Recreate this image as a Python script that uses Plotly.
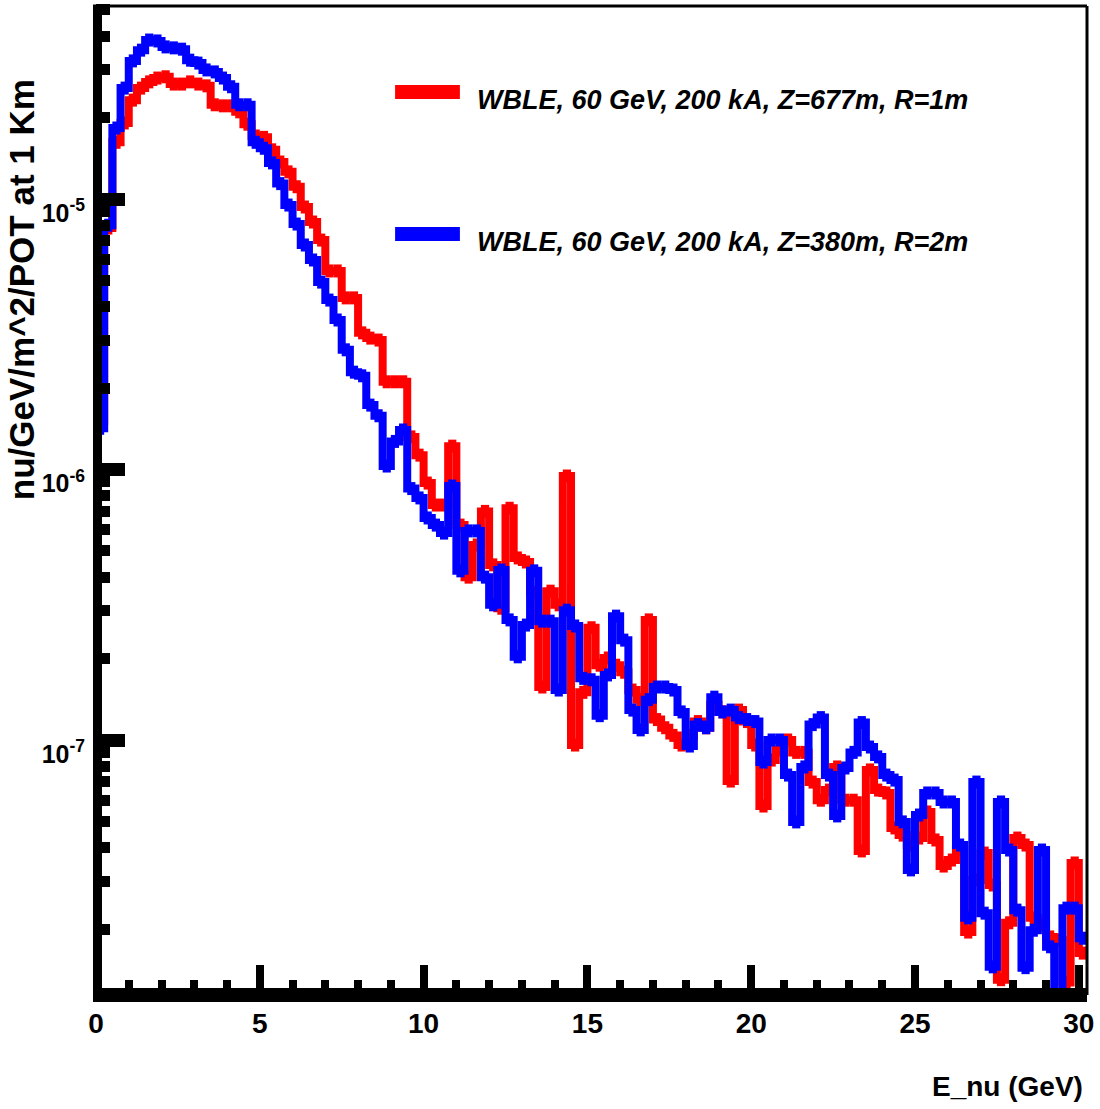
import plotly.graph_objects as go

# ---------------- data ----------------
bin_width = 0.25          # GeV
n_bins = 121              # 0 .. 30.25 GeV
energy_edges = [round(i * bin_width, 4) for i in range(n_bins + 1)]

series_names = [
    "WBLE, 60 GeV, 200 kA, Z=677m, R=1m",
    "WBLE, 60 GeV, 200 kA, Z=380m, R=2m",
]

red_flux = [
    1.51e-6, 7.81e-6, 1.62e-5, 1.91e-5, 2.32e-5, 2.57e-5, 2.71e-5, 2.80e-5, 2.83e-5, 2.66e-5,
    2.66e-5, 2.71e-5, 2.66e-5, 2.62e-5, 2.23e-5, 2.21e-5, 2.21e-5, 2.10e-5, 1.89e-5, 1.71e-5,
    1.69e-5, 1.52e-5, 1.37e-5, 1.26e-5, 1.11e-5, 9.34e-6, 8.22e-6, 7.05e-6, 5.42e-6, 5.42e-6,
    4.31e-6, 4.31e-6, 3.20e-6, 3.06e-6, 3.01e-6, 2.11e-6, 2.11e-6, 2.11e-6, 1.32e-6, 1.13e-6,
    8.91e-7, 7.39e-7, 7.39e-7, 1.22e-6, 6.23e-7, 4.00e-7, 5.26e-7, 7.00e-7, 4.44e-7, 3.07e-7,
    7.19e-7, 4.71e-7, 4.55e-7, 3.52e-7, 1.57e-7, 3.55e-7, 3.16e-7, 9.46e-7, 9.58e-8, 1.50e-7,
    2.60e-7, 1.89e-7, 2.01e-7, 1.89e-7, 1.78e-7, 1.53e-7, 1.41e-7, 2.78e-7, 1.19e-7, 1.11e-7,
    1.04e-7, 9.58e-8, 1.04e-7, 1.17e-7, 1.11e-7, 1.35e-7, 1.27e-7, 7.05e-8, 1.29e-7, 1.17e-7,
    9.58e-8, 5.70e-8, 8.43e-8, 9.18e-8, 1.00e-7, 9.00e-8, 9.00e-8, 6.99e-8, 5.99e-8, 6.53e-8,
    7.95e-8, 5.99e-8, 5.99e-8, 3.89e-8, 7.75e-8, 6.53e-8, 6.37e-8, 4.73e-8, 4.45e-8, 4.09e-8,
    4.34e-8, 5.42e-8, 4.27e-8, 3.42e-8, 3.60e-8, 3.92e-8, 1.95e-8, 3.04e-8, 3.82e-8, 2.91e-8,
    1.30e-8, 2.11e-8, 4.34e-8, 4.09e-8, 2.20e-8, 2.07e-8, 1.87e-8, 1.82e-8, 1.27e-8, 3.51e-8,
    1.63e-8,
]

blue_flux = [
    1.42e-6, 8.00e-6, 1.83e-5, 2.57e-5, 3.24e-5, 3.55e-5, 3.87e-5, 3.84e-5, 3.65e-5, 3.62e-5,
    3.58e-5, 3.26e-5, 3.18e-5, 3.00e-5, 2.95e-5, 2.80e-5, 2.60e-5, 2.23e-5, 2.23e-5, 1.62e-5,
    1.54e-5, 1.36e-5, 1.14e-5, 9.50e-6, 8.08e-6, 6.76e-6, 5.95e-6, 4.93e-6, 4.23e-6, 3.57e-6,
    2.77e-6, 2.29e-6, 2.22e-6, 1.73e-6, 1.58e-6, 1.03e-6, 1.27e-6, 1.40e-6, 8.50e-7, 7.85e-7,
    6.62e-7, 6.23e-7, 5.82e-7, 8.69e-7, 4.22e-7, 5.93e-7, 5.93e-7, 4.00e-7, 3.16e-7, 4.25e-7,
    2.78e-7, 2.03e-7, 2.66e-7, 4.22e-7, 2.75e-7, 2.75e-7, 1.53e-7, 3.02e-7, 2.64e-7, 1.69e-7,
    1.67e-7, 1.23e-7, 1.74e-7, 2.87e-7, 2.34e-7, 1.29e-7, 1.09e-7, 1.41e-7, 1.57e-7, 1.57e-7,
    1.53e-7, 1.27e-7, 9.50e-8, 1.14e-7, 1.11e-7, 1.44e-7, 1.27e-7, 1.29e-7, 1.21e-7, 1.19e-7,
    1.17e-7, 8.29e-8, 1.00e-7, 1.00e-7, 7.42e-8, 4.98e-8, 7.95e-8, 1.14e-7, 1.21e-7, 7.42e-8,
    5.24e-8, 7.88e-8, 9.00e-8, 1.16e-7, 9.42e-8, 8.66e-8, 7.42e-8, 7.11e-8, 4.98e-8, 3.31e-8,
    5.28e-8, 6.37e-8, 6.37e-8, 5.90e-8, 5.90e-8, 4.09e-8, 2.20e-8, 6.99e-8, 2.29e-8, 1.45e-8,
    5.90e-8, 3.92e-8, 2.35e-8, 1.44e-8, 1.98e-8, 3.92e-8, 1.72e-8, 8.00e-9, 2.39e-8, 2.39e-8,
    1.85e-8,
]

x_tick_values = [0, 5, 10, 15, 20, 25, 30]
x_tick_labels = ["0", "5", "10", "15", "20", "25", "30"]
x_minor_values = [v for v in range(1, 30) if v % 5 != 0]
y_tick_values = [1e-7, 1e-6, 1e-5]
y_tick_labels = ["10<sup>-7</sup>", "10<sup>-6</sup>", "10<sup>-5</sup>"]
y_minor_values = [m * 10.0 ** e for e in (-8, -7, -6, -5) for m in range(2, 10)]

# ---------------- styling ----------------
FONT = "Liberation Sans, Arial, Helvetica, sans-serif"
colors = ["#ff0000", "#0000ff"]


def step_outline(vals):
    return energy_edges, list(vals) + [vals[-1]]


def flat_tops(vals):
    xs, ys = [], []
    for i, v in enumerate(vals):
        xs += [energy_edges[i], energy_edges[i + 1], None]
        ys += [v, v, None]
    return xs, ys


fig = go.Figure()
for name, vals, col in zip(series_names, [red_flux, blue_flux], colors):
    sx, sy = step_outline(vals)
    fig.add_trace(go.Scatter(x=sx, y=sy, mode="lines", name=name,
                             line=dict(color=col, width=8, shape="hv"),
                             showlegend=False, hoverinfo="skip"))
    hx, hy = flat_tops(vals)
    fig.add_trace(go.Scatter(x=hx, y=hy, mode="lines", name=name,
                             line=dict(color=col, width=13),
                             showlegend=False, hoverinfo="skip",
                             connectgaps=False))

# plot-area geometry (pixels)
L, R, T, B = 96, 1090, 6, 995
W, H = 1100, 1109


def px(xp):
    return (xp - L) / (R - L)


def py(yp):
    return (B - yp) / (B - T)


fig.update_layout(
    width=W, height=H,
    margin=dict(l=L, r=W - R, t=T, b=H - B),
    paper_bgcolor="white", plot_bgcolor="white",
    showlegend=False,
    xaxis=dict(
        range=[0, 30.25], showgrid=False, zeroline=False, showline=False,
        tickmode="array", tickvals=x_tick_values, ticktext=x_tick_labels,
        ticks="inside", ticklen=30, tickwidth=8, tickcolor="black",
        tickfont=dict(family=FONT, size=28, color="black", weight="bold"),
        ticklabelstandoff=9, ticklabeloverflow="allow",
        minor=dict(tickmode="array", tickvals=x_minor_values, ticks="inside",
                   ticklen=15, tickwidth=8, tickcolor="black", showgrid=False),
    ),
    yaxis=dict(
        type="log", range=[-7.9427, -4.2865], showgrid=False, zeroline=False,
        showline=False,
        tickmode="array", tickvals=y_tick_values, ticktext=y_tick_labels,
        ticks="inside", ticklen=29, tickwidth=13, tickcolor="black",
        tickfont=dict(family=FONT, size=25, color="black", weight="bold"),
        ticklabelstandoff=10, ticklabelshift=14, ticklabeloverflow="allow",
        minor=dict(tickmode="array", tickvals=y_minor_values, ticks="inside",
                   ticklen=14, tickwidth=11, tickcolor="black", showgrid=False),
    ),
)

shapes = [
    # thick left and bottom axes, thin top/right frame
    dict(type="line", xref="paper", yref="paper", x0=px(97.5), x1=px(97.5),
         y0=py(1002), y1=1, line=dict(color="black", width=9), layer="above"),
    dict(type="line", xref="paper", yref="paper", x0=px(93), x1=1,
         y0=0, y1=0, line=dict(color="black", width=14), layer="above"),
    dict(type="line", xref="paper", yref="paper", x0=px(93), x1=1,
         y0=1, y1=1, line=dict(color="black", width=3), layer="above"),
    dict(type="line", xref="paper", yref="paper", x0=1, x1=1,
         y0=0, y1=1, line=dict(color="black", width=3), layer="above"),
]
legend_rows = [92, 234]
for row, col in zip(legend_rows, colors):
    shapes.append(dict(type="line", xref="paper", yref="paper",
                       x0=px(396), x1=px(461), y0=py(row), y1=py(row),
                       line=dict(color=col, width=14)))
fig.update_layout(shapes=shapes)

annotations = []
for row, name in zip(legend_rows, series_names):
    annotations.append(dict(
        text="<b><i>%s</i></b>" % name, xref="paper", yref="paper",
        x=px(476), y=py(row + 8), xanchor="left", yanchor="middle",
        showarrow=False, font=dict(family=FONT, size=27, color="black")))
annotations.append(dict(
    text="<b>nu/GeV/m^2/POT at 1 Km</b>", xref="paper", yref="paper",
    x=px(21), y=py(290), xanchor="center", yanchor="middle", textangle=-90,
    showarrow=False, font=dict(family=FONT, size=35, color="black")))
annotations.append(dict(
    text="<b>E_nu (GeV)</b>", xref="paper", yref="paper",
    x=px(1088), y=py(1086), xanchor="right", yanchor="middle",
    showarrow=False, font=dict(family=FONT, size=28, color="black")))
fig.update_layout(annotations=annotations)

fig.write_html("out.html")
